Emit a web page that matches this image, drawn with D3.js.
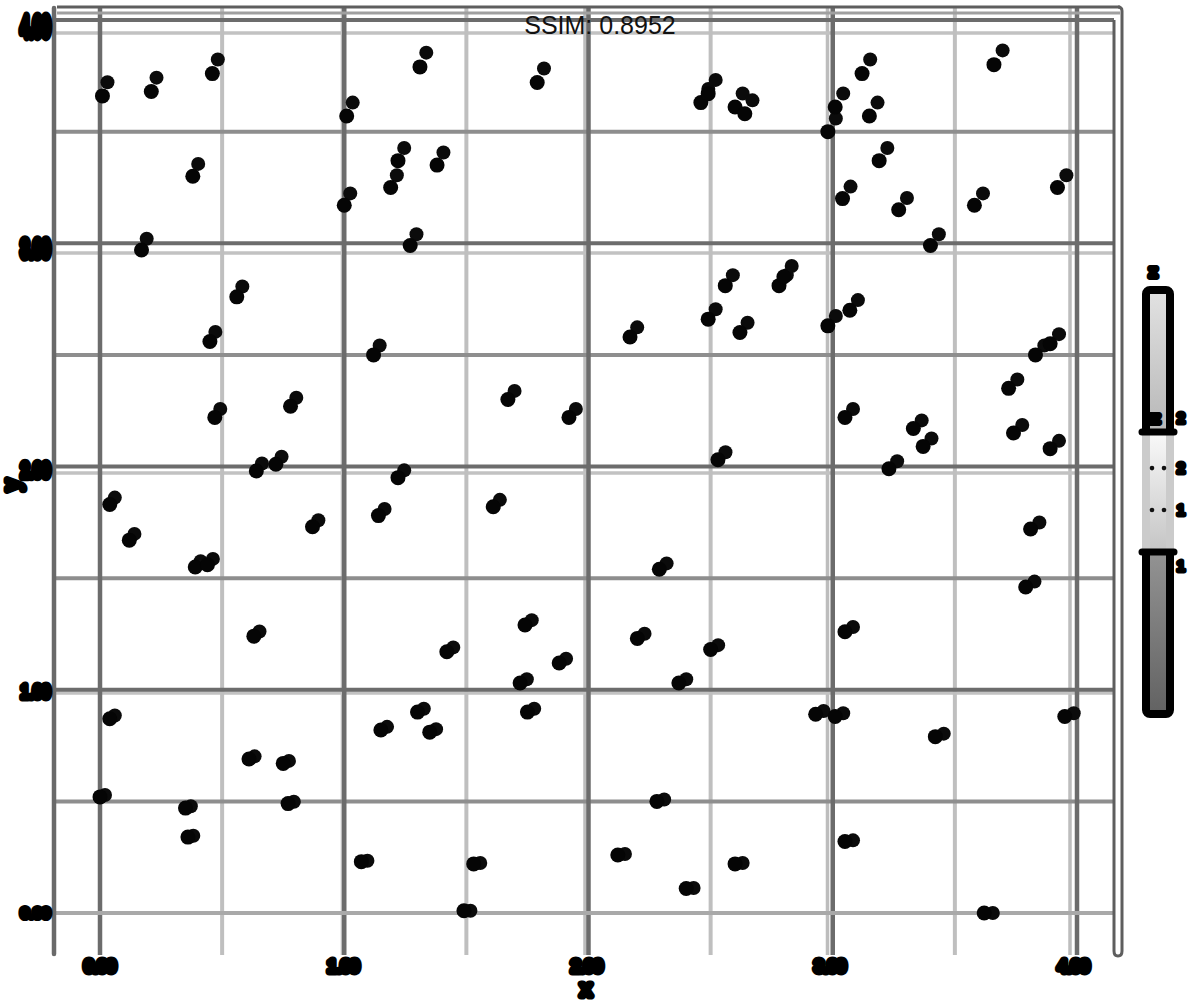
<!DOCTYPE html>
<html><head><meta charset="utf-8">
<script src="https://cdn.jsdelivr.net/npm/d3@7"></script>
<style>body{margin:0;background:#fff} svg{display:block}</style>
</head><body>
<svg id="c" width="1200" height="1000"></svg>
<script>
// ---- data ----
const xTicks = [0, 1, 2, 3, 4];
const yTicks = [0, 1, 2, 3, 4];
const xMinor = [0.5, 1.5, 2.5, 3.5];
const yMinor = [0.5, 1.5, 2.5, 3.5];
const xTickLabels = ["0.00", "1.00", "2.00", "3.00", "4.00"];
const yTickLabels = ["0.00", "1.00", "2.00", "3.00", "4.00"];
const xTitle = "x";
const yTitle = "y";
const legendTitle = "z";
const legendDomain = [0, 2.86];
const legendTicks = [1, 2];
const legendTickLabels = ["1", "2"];
const captionText = "SSIM: 0.8952";

const pointX = [0.01,0.21,0.46,1.01,1.31,1.79,2.46,2.49,2.60,2.64,2.98,3.01,3.12,3.15,3.66,
  0.38,1.00,1.19,1.22,1.38,3.04,3.19,3.27,3.58,3.92,
  0.17,1.27,0.56,3.40,2.56,2.78,2.80,
  0.45,1.12,2.17,2.49,2.62,2.98,3.07,3.83,3.89,
  0.47,0.78,1.67,1.92,3.05,3.33,3.37,3.72,3.74,3.89,2.53,
  0.04,0.12,0.64,0.72,1.22,1.14,0.87,1.61,3.23,3.81,
  0.39,0.44,2.29,3.79,
  0.63,1.42,1.74,1.88,1.72,2.20,2.37,2.50,3.05,
  0.04,1.15,1.30,1.35,1.75,2.93,3.01,3.42,3.95,0.61,0.75,
  0.00,0.35,0.77,0.36,2.28,3.05,
  1.07,1.53,2.12,2.40,2.60,1.49,3.62];
const pointY = [3.66,3.68,3.76,3.57,3.79,3.72,3.63,3.67,3.61,3.58,3.50,3.61,3.76,3.57,3.80,
  3.30,3.17,3.25,3.37,3.35,3.20,3.37,3.15,3.17,3.25,
  2.97,2.99,2.76,2.99,2.81,2.81,2.85,
  2.56,2.50,2.58,2.66,2.60,2.63,2.70,2.50,2.55,
  2.22,2.27,2.30,2.22,2.22,2.17,2.09,2.35,2.15,2.08,2.03,
  1.83,1.67,1.98,2.01,1.95,1.78,1.73,1.82,1.99,1.72,
  1.55,1.56,1.54,1.46,
  1.24,1.17,1.29,1.12,1.03,1.23,1.03,1.18,1.26,
  0.87,0.82,0.90,0.81,0.90,0.89,0.88,0.79,0.88,0.69,0.67,
  0.52,0.47,0.49,0.34,0.50,0.32,
  0.23,0.22,0.26,0.11,0.22,0.01,0.00];
const points = pointX.map((x, i) => ({x, y: pointY[i]}));

// ---- layout ----
const svg = d3.select("#c");
const panelL = 54, panelR = 1114, panelT = 7, panelB = 955;

// main layer scales
const xA = d3.scaleLinear().domain([0, 4]).range([100, 1077]);
const yA = d3.scaleLinear().domain([0, 4]).range([913, 20]);
// second (offset) layer scales
const xB = d3.scaleLinear().domain([0, 4]).range([100, 1070]);
const yB = d3.scaleLinear().domain([0, 4]).range([913, 33]);
// ghost point scales
const xG = d3.scaleLinear().domain([0, 4]).range([105, 1086]);
const yG = d3.scaleLinear().domain([0, 4]).range([913, 5]);
// legend scales
const legA = d3.scaleLinear().domain(legendDomain).range([714, 290]);
const legB = d3.scaleLinear().domain(legendDomain).range([552, 432]);

const g = svg.append("g");

// layer B major grid
g.selectAll(".bgv").data(xTicks.slice(1)).join("line")
  .attr("x1", d => xB(d)).attr("x2", d => xB(d)).attr("y1", panelT).attr("y2", panelB)
  .attr("stroke", "#bdbdbd").attr("stroke-width", 3.5);
g.selectAll(".bgh").data(yTicks.slice(1)).join("line")
  .attr("x1", panelL).attr("x2", panelR).attr("y1", d => yB(d)).attr("y2", d => yB(d))
  .attr("stroke", "#c2c2c2").attr("stroke-width", 3.5);

// layer A minor grid
g.selectAll(".amv").data(xMinor).join("line")
  .attr("x1", d => xA(d)).attr("x2", d => xA(d)).attr("y1", panelT).attr("y2", panelB)
  .attr("stroke", "#bfbfbf").attr("stroke-width", 4);
g.selectAll(".amh").data(yMinor).join("line")
  .attr("x1", panelL).attr("x2", panelR).attr("y1", d => yA(d)).attr("y2", d => yA(d))
  .attr("stroke", "#8e8e8e").attr("stroke-width", 4);

// layer A major grid
g.selectAll(".aMv").data(xTicks).join("line")
  .attr("x1", d => xA(d)).attr("x2", d => xA(d)).attr("y1", panelT).attr("y2", panelB)
  .attr("stroke", "#6c6c6c").attr("stroke-width", 4.5);
g.selectAll(".aMh").data(yTicks).join("line")
  .attr("x1", panelL).attr("x2", panelR).attr("y1", d => yA(d)).attr("y2", d => yA(d))
  .attr("stroke", (d, i) => i === 0 ? "#a9a9a9" : "#6c6c6c").attr("stroke-width", 4);

// frame lines
g.append("line").attr("x1", 57).attr("x2", 1120).attr("y1", 7).attr("y2", 7)
  .attr("stroke", "#5e5e5e").attr("stroke-width", 3);
g.append("line").attr("x1", 57).attr("x2", 1120).attr("y1", 13).attr("y2", 13)
  .attr("stroke", "#a0a0a0").attr("stroke-width", 3);
g.append("path")
  .attr("d", "M1114,20 V951 Q1114,956 1118,956 Q1122,956 1122,951 V11 Q1122,7 1118,7")
  .attr("fill", "none").attr("stroke", "#5e5e5e").attr("stroke-width", 3);
g.append("line").attr("x1", 54).attr("x2", 54).attr("y1", 8).attr("y2", 954)
  .attr("stroke", "#6a6a6a").attr("stroke-width", 4.5).attr("stroke-linecap", "round");

// points: ghost and main
g.selectAll(".pg").data(points).join("circle")
  .attr("cx", d => xG(d.x)).attr("cy", d => yG(d.y)).attr("r", 7)
  .attr("fill", "#0b0b0b");
g.selectAll(".pm").data(points).join("circle")
  .attr("cx", d => xA(d.x)).attr("cy", d => yA(d.y)).attr("r", 7.5)
  .attr("fill", "#050505");

// blob-like text helper
function blob(sel, size, sw) {
  return sel.attr("font-family", "Liberation Sans, Arial, sans-serif")
    .attr("font-size", size).attr("fill", "#000").attr("stroke", "#000")
    .attr("stroke-width", sw).attr("stroke-linejoin", "round").attr("paint-order", "stroke");
}

// y tick labels (one per tick, between the two layers, stretched vertically by the layer gap)
const yLab = g.append("g").selectAll("g").data(yTicks).join("g")
  .attr("transform", d => `translate(50,${(yA(d) + yB(d)) / 2}) scale(1,${1 + (yB(d) - yA(d)) / 16})`);
blob(yLab.append("text").attr("dy", "0.36em").attr("text-anchor", "end")
  .text((d, i) => yTickLabels[i]), 15, 6);
// x tick labels
blob(g.append("g").selectAll("text").data(xTicks).join("text")
  .attr("x", d => (xA(d) + xB(d)) / 2).attr("y", 966).attr("dy", "0.36em")
  .attr("text-anchor", "middle").text((d, i) => xTickLabels[i]), 16, 7);
// axis titles
blob(g.append("text").attr("x", 586).attr("y", 989).attr("dy", "0.3em")
  .attr("text-anchor", "middle").text(xTitle), 22, 7);
blob(g.append("text").attr("transform", "translate(12,485) rotate(-90)").attr("dy", "0.3em")
  .attr("text-anchor", "middle").text(yTitle), 22, 7);

// ---- legend ----
const defs = svg.append("defs");
const gradA = defs.append("linearGradient").attr("id", "gA").attr("x1", 0).attr("x2", 0).attr("y1", 0).attr("y2", 1);
gradA.append("stop").attr("offset", "0%").attr("stop-color", "#e2e2e2");
gradA.append("stop").attr("offset", "100%").attr("stop-color", "#626262");
const gradB = defs.append("linearGradient").attr("id", "gB").attr("x1", 0).attr("x2", 0).attr("y1", 0).attr("y2", 1);
gradB.append("stop").attr("offset", "0%").attr("stop-color", "#f8f8f8");
gradB.append("stop").attr("offset", "100%").attr("stop-color", "#c6c6c6");

const lg = svg.append("g");
const [aBot, aTop] = legA.range();
lg.append("rect").attr("x", 1146).attr("y", aTop).attr("width", 24).attr("height", aBot - aTop)
  .attr("rx", 4).attr("fill", "url(#gA)").attr("stroke", "#000").attr("stroke-width", 8);
const [bBot, bTop] = legB.range();
lg.append("rect").attr("x", 1150).attr("y", bTop + 3).attr("width", 16).attr("height", bBot - bTop - 6)
  .attr("fill", "url(#gB)");
lg.selectAll(".bs").data([1146, 1170]).join("line")
  .attr("x1", d => d).attr("x2", d => d).attr("y1", bTop + 3).attr("y2", bBot - 3)
  .attr("stroke", "#cbcbcb").attr("stroke-width", 8);
lg.selectAll(".bb").data([bTop, bBot]).join("line")
  .attr("x1", 1142).attr("x2", 1174).attr("y1", d => d).attr("y2", d => d)
  .attr("stroke", "#000").attr("stroke-width", 7).attr("stroke-linecap", "round");
// tick marks on B bar
lg.selectAll(".tk").data(legendTicks.flatMap(t => [[1152, t], [1164, t]])).join("circle")
  .attr("cx", d => d[0]).attr("cy", d => legB(d[1])).attr("r", 2.3).attr("fill", "#111");
// legend titles
blob(lg.append("text").attr("x", 1149).attr("y", 272).attr("dy", "0.3em").text(legendTitle), 17, 6);
blob(lg.append("text").attr("x", 1146).attr("y", 419).attr("dy", "0.3em").text(legendTitle + legendTitle), 14, 6);
// legend tick labels
[legA, legB].forEach(sc => {
  blob(lg.append("g").selectAll("text").data(legendTicks).join("text")
    .attr("x", 1177).attr("y", d => sc(d)).attr("dy", "0.36em")
    .text((d, i) => legendTickLabels[i]), 14, 5);
});

// caption
svg.append("text").attr("x", 600).attr("y", 34).attr("text-anchor", "middle")
  .attr("font-family", "Liberation Sans, Arial, sans-serif").attr("font-size", 25)
  .attr("fill", "#111").text(captionText);
</script>
</body></html>
